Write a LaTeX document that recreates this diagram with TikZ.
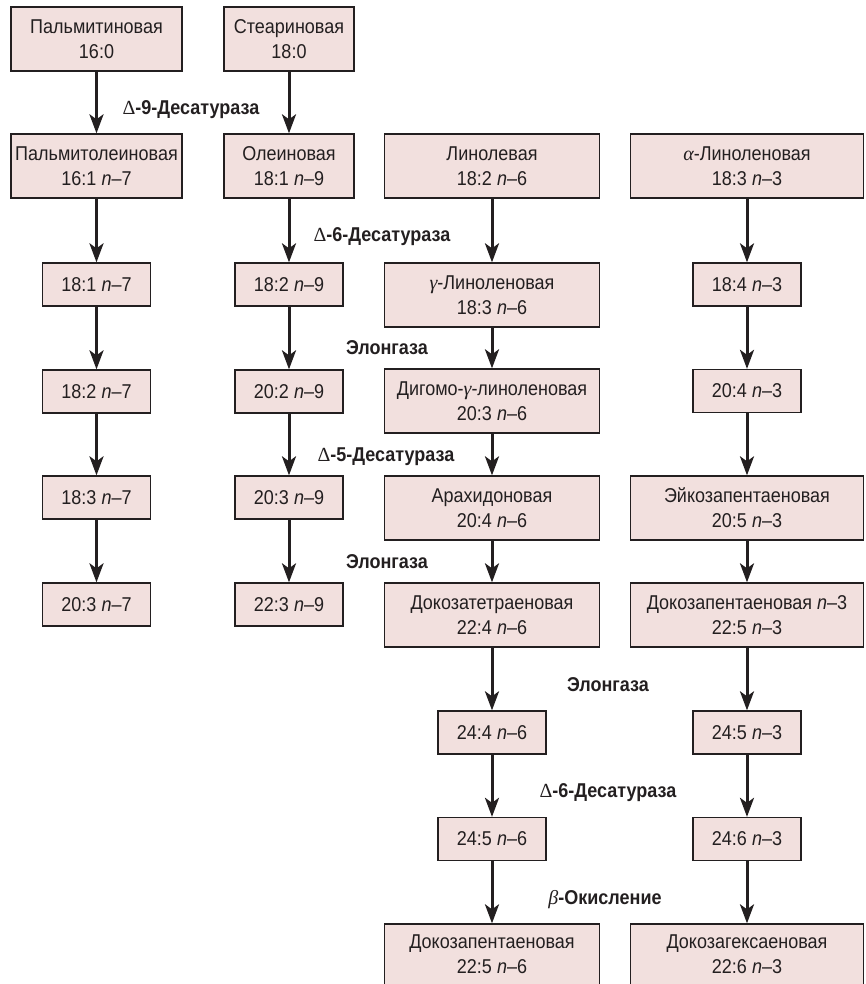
\documentclass[tikz,border=0pt]{standalone}
\usepackage{fontspec}
\setmainfont{Liberation Sans}[FakeStretch=0.9]
\newfontfamily\grk{Liberation Serif}
\usetikzlibrary{arrows.meta}
\definecolor{boxfill}{RGB}{242,224,222}
\definecolor{ink}{RGB}{35,31,32}
\tikzset{
 box/.style={draw=ink, fill=boxfill, line width=1.3pt, align=center, inner sep=0pt, text=ink, font=\fontsize{20}{25}\selectfont},
 big/.style={box, minimum height=64pt},
 small/.style={box, minimum width=108pt, minimum height=43pt},
 flow/.style={draw=ink, line width=3pt, -{Stealth[length=19pt,width=14pt,inset=5pt]}},
 enz/.style={font=\fontsize{20}{25}\selectfont\bfseries, text=ink, anchor=base, inner sep=0pt},
}
\newcommand{\nn}{\textit{n}}
\newcommand{\GA}{{\grk\itshape\mdseries α}}
\newcommand{\GG}{{\grk\itshape\mdseries γ}}
\newcommand{\GB}{{\grk\itshape\mdseries β}}
\newcommand{\GD}{{\grk\upshape\mdseries Δ}}
\begin{document}
\begin{tikzpicture}[x=1pt,y=-1pt]
\useasboundingbox (0,0) rectangle (865,984);
% column 1
\node[big,minimum width=171pt] (p1) at (96.5,39) {Пальмитиновая\\16:0};
\node[big,minimum width=171pt] (p2) at (96.5,166) {Пальмитолеиновая\\16:1 \nn–7};
\node[small] (c1a) at (96.5,284.5) {18:1 \nn–7};
\node[small] (c1b) at (96.5,391.5) {18:2 \nn–7};
\node[small] (c1c) at (96.5,497.5) {18:3 \nn–7};
\node[small] (c1d) at (96.5,604.5) {20:3 \nn–7};
% column 2
\node[big,minimum width=130pt] (s1) at (289,39) {Стеариновая\\18:0};
\node[big,minimum width=130pt] (s2) at (289,166) {Олеиновая\\18:1 \nn–9};
\node[small] (c2a) at (289,284.5) {18:2 \nn–9};
\node[small] (c2b) at (289,391.5) {20:2 \nn–9};
\node[small] (c2c) at (289,497.5) {20:3 \nn–9};
\node[small] (c2d) at (289,604.5) {22:3 \nn–9};
% column 3
\node[big,minimum width=215pt] (l2) at (492,166) {Линолевая\\18:2 \nn–6};
\node[big,minimum width=215pt] (g3) at (492,295) {\GG-Линоленовая\\18:3 \nn–6};
\node[big,minimum width=215pt] (g4) at (492,401) {Дигомо-\GG-линоленовая\\20:3 \nn–6};
\node[big,minimum width=215pt] (g5) at (492,508) {Арахидоновая\\20:4 \nn–6};
\node[big,minimum width=215pt] (g6) at (492,615) {Докозатетраеновая\\22:4 \nn–6};
\node[small] (g7) at (492,732.5) {24:4 \nn–6};
\node[small] (g8) at (492,839) {24:5 \nn–6};
\node[big,minimum width=215pt,minimum height=61pt] (g9) at (492,954.5) {Докозапентаеновая\\22:5 \nn–6};
% column 4
\node[big,minimum width=233pt] (a2) at (747,166) {\GA-Линоленовая\\18:3 \nn–3};
\node[small] (d3) at (747,284.5) {18:4 \nn–3};
\node[small] (d4) at (747,391) {20:4 \nn–3};
\node[big,minimum width=233pt] (d5) at (747,508) {Эйкозапентаеновая\\20:5 \nn–3};
\node[big,minimum width=233pt] (d6) at (747,615) {Докозапентаеновая \nn–3\\22:5 \nn–3};
\node[small] (d7) at (747,732.5) {24:5 \nn–3};
\node[small] (d8) at (747,839) {24:6 \nn–3};
\node[big,minimum width=233pt,minimum height=61pt] (d9) at (747,954.5) {Докозагексаеновая\\22:6 \nn–3};
% enzyme labels
\node[enz] (e1) at (191,114.5) {\GD-9-Десатураза};
\node[enz] (e2) at (382,241) {\GD-6-Десатураза};
\node[enz] (e3) at (387,354) {Элонгаза};
\node[enz] (e4) at (386,461) {\GD-5-Десатураза};
\node[enz] (e5) at (387,568) {Элонгаза};
\node[enz] (e6) at (608,691) {Элонгаза};
\node[enz] (e7) at (608,797) {\GD-6-Десатураза};
\node[enz] (e8) at (605,904) {\GB-Окисление};
% arrows
\foreach \a/\b in {p1/p2,p2/c1a,c1a/c1b,c1b/c1c,c1c/c1d,
                   s1/s2,s2/c2a,c2a/c2b,c2b/c2c,c2c/c2d,
                   l2/g3,g3/g4,g4/g5,g5/g6,g6/g7,g7/g8,g8/g9,
                   a2/d3,d3/d4,d4/d5,d5/d6,d6/d7,d7/d8,d8/d9}
  \draw[flow] (\a.south) -- (\a.south |- \b.north);
\end{tikzpicture}
\end{document}
